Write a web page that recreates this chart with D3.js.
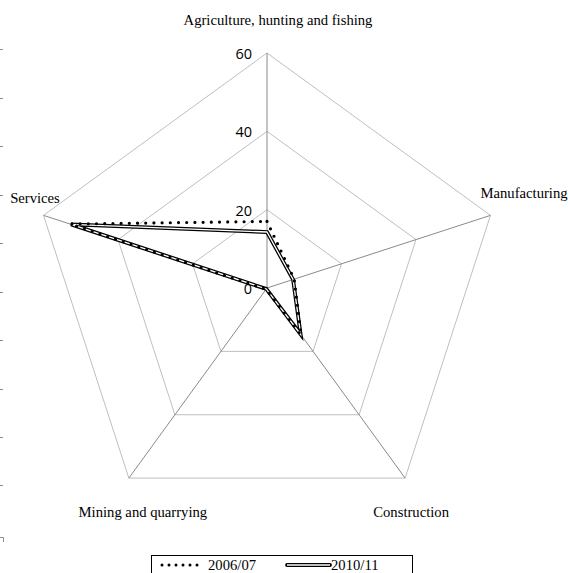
<!DOCTYPE html>
<html><head><meta charset="utf-8">
<script src="https://cdn.jsdelivr.net/npm/d3@7"></script>
<style>
html,body{margin:0;padding:0;background:#fff;}
svg{display:block;}
</style></head>
<body><svg id="c" width="569" height="573"></svg>
<script>
const categories = ["Agriculture, hunting and fishing","Manufacturing","Construction","Mining and quarrying","Services"];
const series2006 = [17, 7.3, 14.8, 0.4, 52.8];
const series2010 = [14.3, 7.0, 14.6, 0.3, 52.6];
const seriesNames = ["2006/07","2010/11"];
const tickValues = [0,20,40,60];
const edgeTicks = [49,98,146,195,243,292,340,389,437,485];

const svg = d3.select("#c");
const cx = 267, cy = 288, R = 235;
const r = d3.scaleLinear().domain([0,60]).range([0,R]);
const ang = d3.scaleLinear().domain([0,categories.length]).range([0,2*Math.PI]);
const pt = (i,v)=>[cx + r(v)*Math.sin(ang(i)), cy - r(v)*Math.cos(ang(i))];

// left edge remnants
const eg = svg.append("g").attr("stroke","#8c8c8c").attr("stroke-width",1);
edgeTicks.forEach(y=>eg.append("line").attr("x1",0).attr("x2",3).attr("y1",y+0.5).attr("y2",y+0.5));
eg.append("path").attr("fill","none").attr("d","M0,537.5H3.5V542");

// rings
const ringLine = d3.line().curve(d3.curveLinearClosed);
tickValues.filter(t=>t>0).forEach(t=>{
  svg.append("path").attr("d", ringLine(categories.map((c,i)=>pt(i,t))))
    .attr("fill","none").attr("stroke","#bfbfbf").attr("stroke-width",1);
});
// spokes
categories.forEach((c,i)=>{
  const p = pt(i,60);
  svg.append("line").attr("x1",cx).attr("y1",cy).attr("x2",p[0]).attr("y2",p[1])
    .attr("stroke","#8a8a8a").attr("stroke-width",1);
});

// tick labels
tickValues.forEach(t=>{
  svg.append("text").attr("x",cx-15).attr("y",cy - r(t)+6)
    .attr("text-anchor","end").attr("font-family","'Open Sans', 'Liberation Sans', sans-serif")
    .attr("font-size","14.5px").attr("fill","#000").text(t);
});

// category labels
const labelOffsets = [[11,-28,"middle"],[-10,-17,"start"],[6,39,"middle"],[14,39,"middle"],[-8.5,-12,"middle"]];
categories.forEach((c,i)=>{
  const p = pt(i,60), o = labelOffsets[i];
  svg.append("text").attr("x",p[0]+o[0]).attr("y",p[1]+o[1]).attr("text-anchor",o[2])
    .attr("font-family","'Liberation Serif', 'Times New Roman', serif").attr("font-size","14.67px")
    .attr("fill","#000").text(c);
});

// series
const poly = vals => ringLine(vals.map((v,i)=>pt(i,v)));
svg.append("path").attr("d",poly(series2010)).attr("fill","none").attr("stroke","#000")
  .attr("stroke-width",3.8).attr("stroke-linejoin","miter");
svg.append("path").attr("d",poly(series2010)).attr("fill","none").attr("stroke","#fff")
  .attr("stroke-width",1.3).attr("stroke-linejoin","miter");
svg.append("path").attr("d",poly(series2006)).attr("fill","none").attr("stroke","#000")
  .attr("stroke-width",3.2).attr("stroke-linecap","round").attr("stroke-dasharray","0 8.2");

// legend
const lg = svg.append("g");
lg.append("rect").attr("x",151.5).attr("y",555.5).attr("width",261).attr("height",30)
  .attr("fill","#fff").attr("stroke","#000").attr("stroke-width",1);
lg.append("line").attr("x1",162).attr("x2",204).attr("y1",565).attr("y2",565)
  .attr("stroke","#000").attr("stroke-width",3).attr("stroke-linecap","round").attr("stroke-dasharray","0 7");
lg.append("line").attr("x1",287).attr("x2",330).attr("y1",565).attr("y2",565)
  .attr("stroke","#000").attr("stroke-width",3.8).attr("stroke-linecap","round");
lg.append("line").attr("x1",287).attr("x2",330).attr("y1",565).attr("y2",565)
  .attr("stroke","#fff").attr("stroke-width",1.3);
[[208,seriesNames[0]],[331,seriesNames[1]]].forEach(d=>{
  lg.append("text").attr("x",d[0]).attr("y",570).attr("font-family","'Liberation Serif', 'Times New Roman', serif")
    .attr("font-size","14.67px").attr("fill","#000").text(d[1]);
});
</script></body></html>
